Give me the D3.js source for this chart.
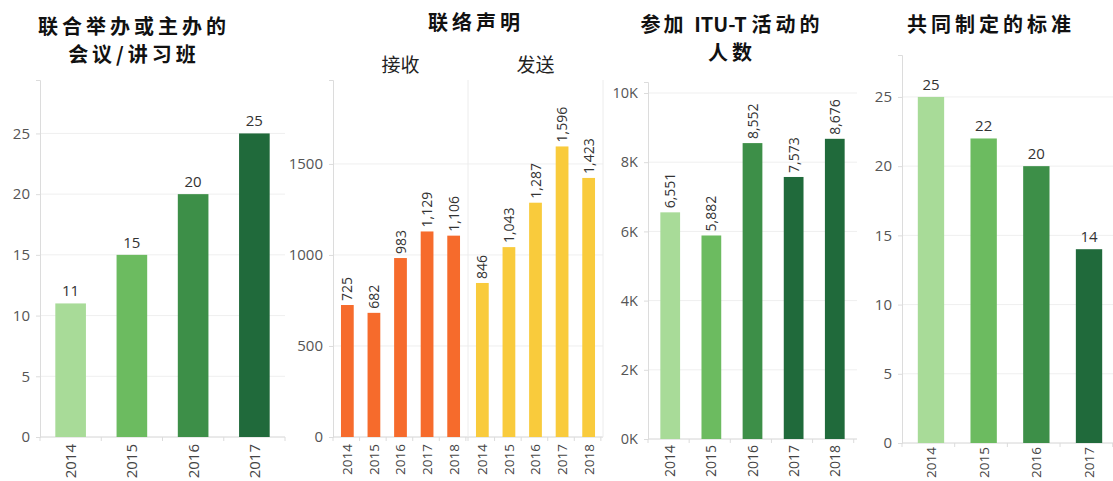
<!DOCTYPE html>
<html>
<head>
<meta charset="utf-8">
<script src="https://cdn.jsdelivr.net/npm/d3@7"></script>
<style>
  body { margin: 0; background: #fff; }
  .title { font-family: "Noto Sans CJK SC", sans-serif; font-weight: 700; font-size: 20px; fill: #111; letter-spacing: 3px; }
  .sub { font-family: "Noto Sans CJK SC", sans-serif; font-size: 19px; fill: #222; }
  .tick text { font-family: "Open Sans", sans-serif; fill: #555; }
  .val { font-family: "Open Sans", sans-serif; fill: #333; }
</style>
</head>
<body>
<script>
// ---- data ----
const years4 = ["2014", "2015", "2016", "2017"];
const years5 = ["2014", "2015", "2016", "2017", "2018"];
const workshops = [11, 15, 20, 25];
const liaisonGroups = ["接收", "发送"];
const liaisonReceived = [725, 682, 983, 1129, 1106];
const liaisonSent = [846, 1043, 1287, 1596, 1423];
const participants = [6551, 5882, 8552, 7573, 8676];
const jointStandards = [25, 22, 20, 14];

const greens4 = ["#a8db98", "#6cbb60", "#3d8f48", "#206a3b"];
const greens5 = ["#a8db98", "#6cbb60", "#3d8f48", "#206a3b", "#206a3b"];
const orange = "#f66b2c";
const yellow = "#f9cb3c";

const W = 1113, H = 481;

const svg = d3.select("body").append("svg")
    .attr("width", W)
    .attr("height", H);

const fmt = d3.format(",");

// draws y axis, gridlines and baseline for one panel
function frame(y, x0, x1, ticks, tickFmt, fs) {
    const g = svg.append("g");
    g.selectAll("line.grid")
        .data(ticks)
        .enter().append("line")
        .attr("x1", x0).attr("x2", x1)
        .attr("y1", d => y(d)).attr("y2", d => y(d))
        .attr("stroke", "#efefef");
    const ax = g.append("g")
        .attr("transform", "translate(" + x0 + ",0)")
        .call(d3.axisLeft(y).tickValues(ticks).tickFormat(tickFmt).tickSize(4).tickPadding(6));
    ax.select(".domain").attr("stroke", "#dcdcdc");
    ax.selectAll(".tick line").attr("stroke", "#dcdcdc");
    ax.selectAll(".tick text").style("font-size", fs + "px");
    g.append("line")
        .attr("x1", x0).attr("x2", x1)
        .attr("y1", y.range()[0]).attr("y2", y.range()[0])
        .attr("stroke", "#dcdcdc");
    return g;
}

function yearTicks(x, offset, y0, fs, pad) {
    const ax = svg.append("g")
        .attr("transform", "translate(" + offset + "," + y0 + ")")
        .call(d3.axisBottom(x).tickSize(0));
    ax.select(".domain").remove();
    ax.selectAll(".tick text")
        .attr("transform", "rotate(-90)")
        .attr("x", -pad).attr("y", 0).attr("dy", "0.36em")
        .style("text-anchor", "end")
        .style("font-size", fs + "px")
        .style("fill", "#444");
    // small separators at band edges
    const step = x.step();
    const start = x.range()[0];
    svg.append("g").selectAll("line")
        .data(d3.range(x.domain().length + 1))
        .enter().append("line")
        .attr("x1", i => offset + start + i * step).attr("x2", i => offset + start + i * step)
        .attr("y1", y0).attr("y2", y0 + 4)
        .attr("stroke", "#dcdcdc");
}

function bars(x, offset, y, vals, colors, labelMode, fs) {
    const cats = x.domain();
    svg.append("g").selectAll("rect")
        .data(vals)
        .enter().append("rect")
        .attr("x", (d, i) => offset + x(cats[i]))
        .attr("y", d => y(d))
        .attr("width", x.bandwidth())
        .attr("height", d => y(0) - y(d))
        .attr("fill", (d, i) => Array.isArray(colors) ? colors[i] : colors);
    const lab = svg.append("g").selectAll("text")
        .data(vals)
        .enter().append("text")
        .attr("class", "val")
        .style("font-size", fs + "px")
        .text(d => fmt(d));
    if (labelMode === "rot") {
        lab.attr("transform", (d, i) => "translate(" + (offset + x(cats[i]) + x.bandwidth() / 2) + "," + (y(d) - 4) + ") rotate(-90)")
            .attr("dy", "0.36em")
            .attr("text-anchor", "start");
    } else {
        lab.attr("x", (d, i) => offset + x(cats[i]) + x.bandwidth() / 2)
            .attr("y", d => y(d) - 7)
            .attr("text-anchor", "middle");
    }
}

// each line is a list of [text, letterSpacing] parts
function title(lines, cx, y0) {
    lines.forEach((parts, i) => {
        const t = svg.append("text")
            .attr("class", "title")
            .attr("x", cx).attr("y", y0 + i * 28)
            .attr("text-anchor", "middle");
        parts.forEach(p => {
            t.append("tspan").style("letter-spacing", p[1] + "px").text(p[0]);
        });
    });
}

// ---- panel 1: workshops ----
{
    const y = d3.scaleLinear().domain([0, 29.4]).range([437, 80]);
    const x = d3.scaleBand().domain(years4).range([40, 285]).paddingInner(0.5).paddingOuter(0.25);
    frame(y, 40, 285, [0, 5, 10, 15, 20, 25], d3.format("d"), 15);
    bars(x, 0, y, workshops, greens4, "top", 15);
    yearTicks(x, 0, 437, 15, 7);
    title([[["联合举办或主办的", 4]], [["会议/讲习班", 4]]], 134, 34);
}

// ---- panel 2: liaison statements ----
{
    const y = d3.scaleLinear().domain([0, 1961]).range([437, 80]);
    const outer = d3.scaleBand().domain(liaisonGroups).range([333, 603]);
    frame(y, 333, 603, [0, 500, 1000, 1500], d3.format("d"), 15);
    // group dividers
    svg.append("g").selectAll("line")
        .data(liaisonGroups)
        .enter().append("line")
        .attr("x1", d => outer(d) + outer.bandwidth()).attr("x2", d => outer(d) + outer.bandwidth())
        .attr("y1", 80).attr("y2", 437)
        .attr("stroke", "#ececec");
    const x = d3.scaleBand().domain(years5).range([0, outer.bandwidth()]).paddingInner(0.52).paddingOuter(0.3);
    bars(x, outer("接收"), y, liaisonReceived, orange, "rot", 14);
    bars(x, outer("发送"), y, liaisonSent, yellow, "rot", 14);
    yearTicks(x, outer("接收"), 437, 13.5, 7);
    yearTicks(x, outer("发送"), 437, 13.5, 7);
    svg.selectAll("text.sub")
        .data(liaisonGroups)
        .enter().append("text")
        .attr("class", "sub")
        .attr("x", d => outer(d) + outer.bandwidth() / 2)
        .attr("y", 72)
        .attr("text-anchor", "middle")
        .text(d => d);
    title([[["联络声明", 4]]], 476, 30);
}

// ---- panel 3: participants ----
{
    const y = d3.scaleLinear().domain([0, 10318]).range([439, 82]);
    const x = d3.scaleBand().domain(years5).range([648, 857]).paddingInner(0.52).paddingOuter(0.3);
    frame(y, 648, 857, [0, 2000, 4000, 6000, 8000, 10000], d => (d / 1000) + "K", 14.5);
    bars(x, 0, y, participants, greens5, "rot", 14);
    yearTicks(x, 0, 439, 14, 6);
    title([[["参加 ", 3], ["ITU-T ", 0], ["活动的", 4]], [["人数", 4]]], 732, 32);
}

// ---- panel 4: joint standards ----
{
    const y = d3.scaleLinear().domain([0, 28.03]).range([443, 55]);
    const x = d3.scaleBand().domain(years4).range([902, 1118]).paddingInner(0.5).paddingOuter(0.3);
    frame(y, 902, 1118, [0, 5, 10, 15, 20, 25], d3.format("d"), 15);
    bars(x, 0, y, jointStandards, greens4, "top", 15);
    yearTicks(x, 0, 443, 13.5, 4);
    title([[["共同制定的标准", 4]]], 991, 32);
}
</script>
</body>
</html>
